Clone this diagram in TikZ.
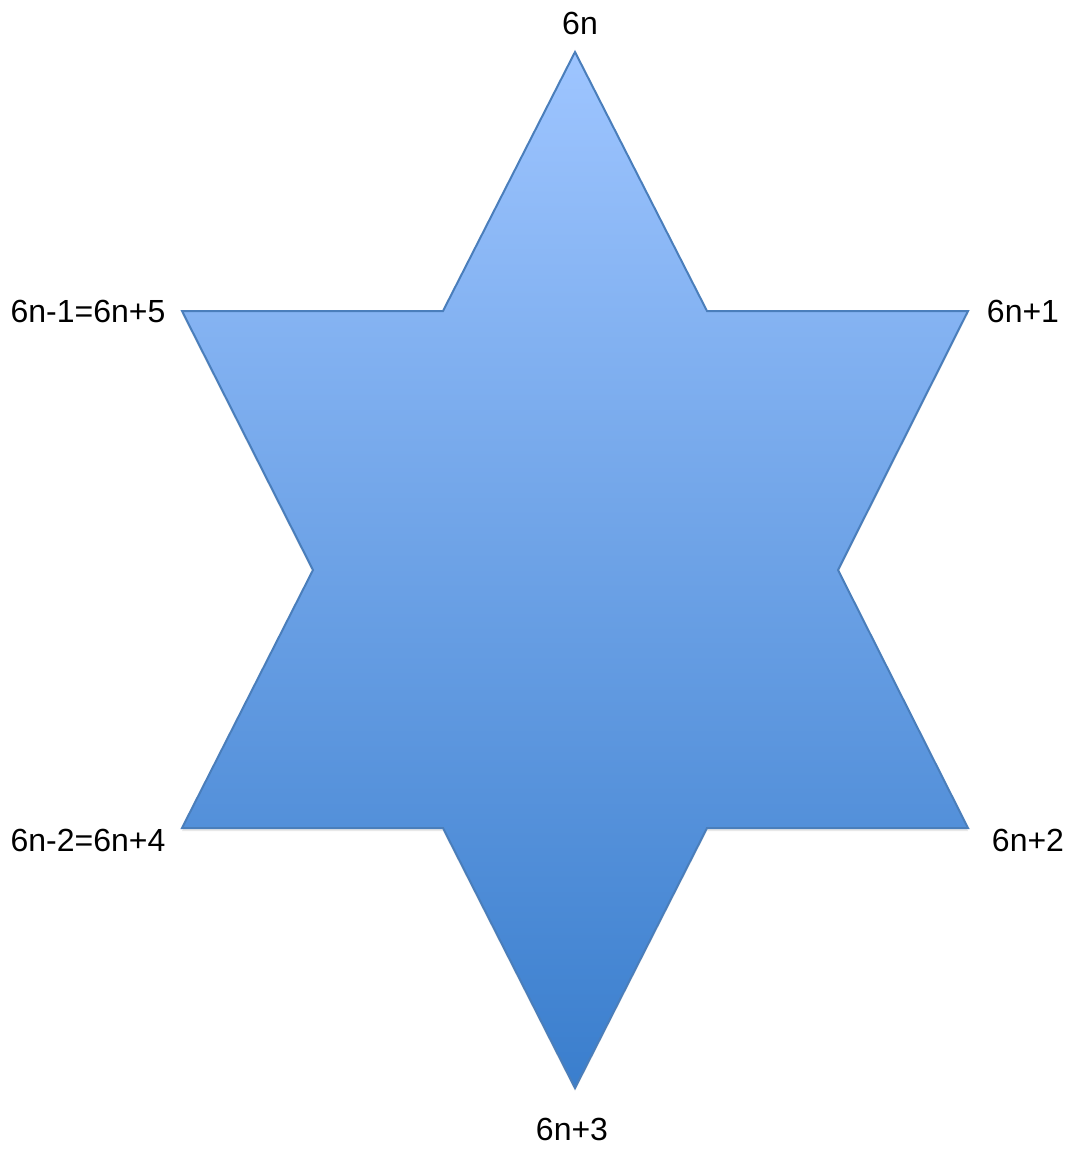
\documentclass[tikz,border=0pt]{standalone}
\usepackage{fontspec}
\setmainfont{Liberation Sans}
\definecolor{startop}{RGB}{158,197,255}
\definecolor{starmid}{RGB}{130,177,240}
\definecolor{starbot}{RGB}{58,126,205}
\definecolor{starline}{RGB}{74,126,187}
\begin{document}
\begin{tikzpicture}[x=1pt,y=-1pt,
  lbl/.style={font=\fontsize{32}{38}\selectfont,inner sep=0pt,anchor=center}]
\useasboundingbox (0,0) rectangle (1078,1151);
\fill[white] (0,0) rectangle (1078,1151);
\coordinate (T) at (575,52);
\coordinate (TR) at (707,311);
\coordinate (R1) at (968,311);
\coordinate (RI) at (838,570);
\coordinate (R2) at (968,828);
\coordinate (BR) at (707,828);
\coordinate (B) at (575,1088);
\coordinate (BL) at (443,828);
\coordinate (L2) at (182,828);
\coordinate (LI) at (313,570);
\coordinate (L1) at (182,311);
\coordinate (TL) at (443,311);
\fill[black!25,opacity=0.35] ([shift={(0,3)}]T) -- ([shift={(0,3)}]TR) -- ([shift={(0,3)}]R1) -- ([shift={(0,3)}]RI) -- ([shift={(0,3)}]R2) -- ([shift={(0,3)}]BR) -- ([shift={(0,3)}]B) -- ([shift={(0,3)}]BL) -- ([shift={(0,3)}]L2) -- ([shift={(0,3)}]LI) -- ([shift={(0,3)}]L1) -- ([shift={(0,3)}]TL) -- cycle;
\shade[top color=startop,middle color=starmid,bottom color=starbot,draw=starline,line width=2pt,line join=miter]
  (T) -- (TR) -- (R1) -- (RI) -- (R2) -- (BR) -- (B) -- (BL) -- (L2) -- (LI) -- (L1) -- (TL) -- cycle;
\node[lbl] (n0) at (580,23) {6n};
\node[lbl] (n1) at (1023,311) {6n+1};
\node[lbl] (n5) at (88,311) {6n-1=6n+5};
\node[lbl] (n4) at (88,840) {6n-2=6n+4};
\node[lbl] (n2) at (1028,840) {6n+2};
\node[lbl] (n3) at (572,1129) {6n+3};
\end{tikzpicture}
\end{document}
